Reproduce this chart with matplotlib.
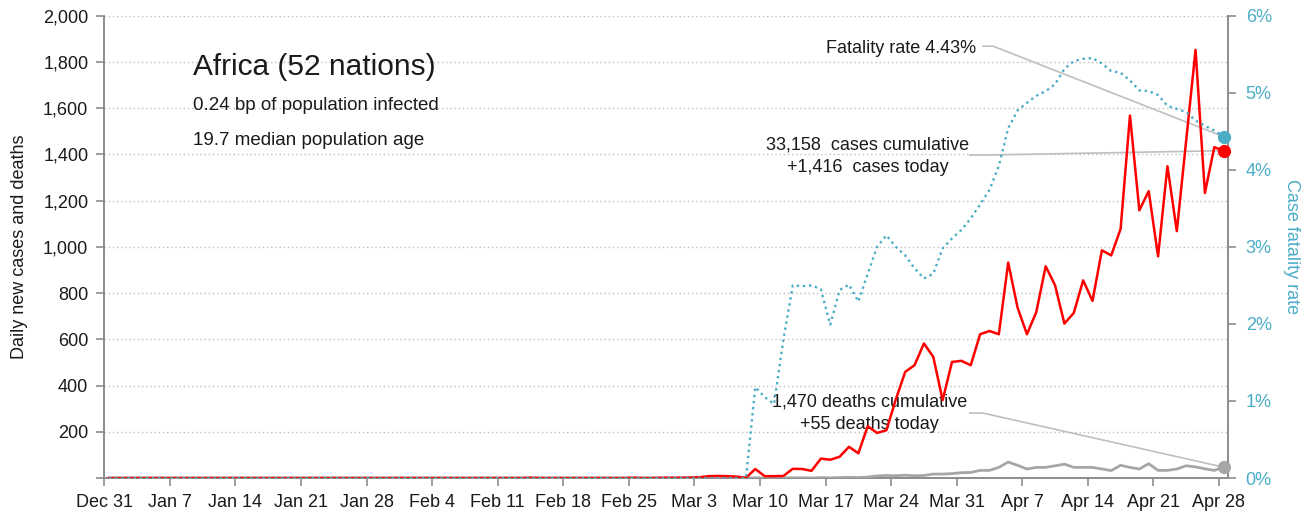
import matplotlib
matplotlib.use('Agg')
import matplotlib.pyplot as plt
import numpy as np

plt.rcParams['font.family'] = ['Liberation Sans', 'DejaVu Sans']

# Daily data, Dec 31 .. Apr 28 (one value per day)
new_cases = [
    0, 0, 0, 0, 0, 0, 0, 0, 0, 0,
    0, 0, 0, 0, 0, 0, 0, 0, 0, 0,
    0, 0, 0, 0, 0, 0, 0, 0, 0, 0,
    0, 0, 0, 0, 0, 0, 0, 0, 0, 0,
    0, 0, 0, 0, 0, 1, 0, 0, 0, 0,
    0, 0, 0, 0, 0, 0, 1, 0, 0, 1,
    1, 1, 2, 3, 8, 9, 8, 6, 1, 39,
    8, 8, 9, 40, 39, 31, 84, 79, 92, 135,
    107, 224, 195, 207, 340, 459, 488, 582, 524, 337,
    502, 507, 488, 622, 636, 622, 932, 737, 622, 718,
    916, 834, 668, 714, 855, 766, 985, 963, 1078, 1568,
    1158, 1241, 959, 1349, 1068, 1460, 1852, 1233, 1431, 1416,
]
new_deaths = [
    0, 0, 0, 0, 0, 0, 0, 0, 0, 0,
    0, 0, 0, 0, 0, 0, 0, 0, 0, 0,
    0, 0, 0, 0, 0, 0, 0, 0, 0, 0,
    0, 0, 0, 0, 0, 0, 0, 0, 0, 0,
    0, 0, 0, 0, 0, 0, 0, 0, 0, 0,
    0, 0, 0, 0, 0, 0, 0, 0, 0, 0,
    0, 0, 0, 0, 0, 0, 0, 0, 0, 1,
    0, 0, 1, 1, 1, 0, 2, 1, 2, 3,
    2, 4, 9, 11, 10, 12, 10, 11, 17, 17,
    19, 23, 24, 33, 33, 46, 69, 55, 39, 46,
    46, 53, 60, 46, 46, 46, 39, 32, 55, 46,
    39, 62, 33, 33, 39, 53, 48, 40, 33, 47,
]
fatality_rate = [
    0, 0, 0, 0, 0, 0, 0, 0, 0, 0,
    0, 0, 0, 0, 0, 0, 0, 0, 0, 0,
    0, 0, 0, 0, 0, 0, 0, 0, 0, 0,
    0, 0, 0, 0, 0, 0, 0, 0, 0, 0,
    0, 0, 0, 0, 0, 0, 0, 0, 0, 0,
    0, 0, 0, 0, 0, 0, 0, 0, 0, 0,
    0, 0, 0, 0, 0, 0, 0, 0, 0, 1.18,
    1.05, 0.96, 1.80, 2.50, 2.49, 2.50, 2.45, 1.99, 2.44, 2.51,
    2.29, 2.65, 3.00, 3.15, 3.00, 2.89, 2.72, 2.59, 2.65, 2.98,
    3.11, 3.22, 3.37, 3.55, 3.74, 4.05, 4.54, 4.77, 4.87, 4.96,
    5.02, 5.11, 5.31, 5.41, 5.44, 5.45, 5.38, 5.28, 5.26, 5.16,
    5.03, 5.02, 4.97, 4.83, 4.79, 4.75, 4.64, 4.57, 4.51, 4.43,
]
tick_labels = ['Dec 31', 'Jan 7', 'Jan 14', 'Jan 21', 'Jan 28', 'Feb 4', 'Feb 11',
               'Feb 18', 'Feb 25', 'Mar 3', 'Mar 10', 'Mar 17', 'Mar 24', 'Mar 31',
               'Apr 7', 'Apr 14', 'Apr 21', 'Apr 28']

title = 'Africa (52 nations)'
subtitle_lines = ['0.24 bp of population infected', '19.7 median population age']
fatality_note = 'Fatality rate 4.43%'
cases_note = '33,158  cases cumulative\n+1,416  cases today'
deaths_note = '1,470 deaths cumulative\n+55 deaths today'

RED = '#ff0000'
GREY = '#a6a6a6'
BLUE = '#4bacc6'
AXIS = '#8c8c8c'
LEADER = '#bfbfbf'
TEXT = '#1a1a1a'

days = np.arange(len(new_cases)) + 0.5
Y_MAX = 2000
RATE_MAX = 6

fig = plt.figure(figsize=(13.14, 5.21), dpi=100, facecolor='white')
ax = fig.add_axes([0.0794, 0.0825, 0.8554, 0.8874])
ax2 = ax.twinx()

ax.plot(days, new_deaths, color=GREY, linewidth=2.0, zorder=3)
ax.plot(days, new_cases, color=RED, linewidth=1.8, zorder=4)

ax2.plot(days, fatality_rate, color=BLUE, linewidth=1.7, linestyle=(0, (1, 1.6)))

# end dots sit on top of the right spine, so draw them on the twin axes
ax2.plot(days[-1], new_cases[-1], 'o', color=RED, markersize=8.5, zorder=5,
         clip_on=False, transform=ax.transData)
ax2.plot(days[-1], new_deaths[-1], 'o', color=GREY, markersize=8.5, zorder=5,
         clip_on=False, transform=ax.transData)
ax2.plot(days[-1], fatality_rate[-1], 'o', color=BLUE, markersize=8.5, zorder=5,
         clip_on=False)

ax.set_xlim(0, 120)
ax.set_ylim(0, Y_MAX)
ax2.set_ylim(0, RATE_MAX)

ax.set_xticks(np.arange(0, 120, 7))
ax.set_xticklabels(tick_labels)
yt = np.arange(0, Y_MAX + 1, 200)
ax.set_yticks(yt)
ax.set_yticklabels(['' if v == 0 else f'{v:,}' for v in yt])
ax2.set_yticks(np.arange(0, RATE_MAX + 1))
ax2.set_yticklabels([f'{v}%' for v in range(RATE_MAX + 1)])

ax.grid(True, axis='y', color=LEADER, linestyle=(0, (1, 2)), linewidth=1.0)
ax.set_axisbelow(True)

for s in ['top', 'right']:
    ax.spines[s].set_visible(False)
for s in ['top', 'left', 'bottom']:
    ax2.spines[s].set_visible(False)
for sp in [ax.spines['left'], ax.spines['bottom'], ax2.spines['right']]:
    sp.set_color(AXIS)
    sp.set_linewidth(1.4)

ax.tick_params(axis='both', length=5.5, width=1.2, color=AXIS, labelsize=13,
               labelcolor=TEXT, pad=6)
ax2.tick_params(axis='y', length=5.5, width=1.2, color=AXIS, labelsize=13,
                labelcolor=BLUE, pad=7)

ax.set_ylabel('Daily new cases and deaths', fontsize=13, color=TEXT, labelpad=11)
ax2.set_ylabel('Case fatality rate', fontsize=13, color=BLUE, rotation=-90, labelpad=20)

fig.text(0.1469, 0.857, title, fontsize=21.5, color=TEXT, va='baseline')
fig.text(0.1469, 0.788, subtitle_lines[0], fontsize=13.5, color=TEXT, va='baseline')
fig.text(0.1469, 0.721, subtitle_lines[1], fontsize=13.5, color=TEXT, va='baseline')

# notes and leader lines to the last points
rate_scale = Y_MAX / RATE_MAX
ax.text(93.1, 1859, fatality_note, fontsize=13, color=TEXT, ha='right', va='center')
ax.plot([93.8, 94.9, days[-1]], [1868, 1868, fatality_rate[-1] * rate_scale],
        color=LEADER, linewidth=1.2, zorder=2)

ax.text(81.5, 1392, cases_note, fontsize=13, color=TEXT, ha='center', va='center',
        linespacing=1.4)
ax.plot([92.4, 93.8, days[-1]], [1397, 1397, new_cases[-1]],
        color=LEADER, linewidth=1.2, zorder=2)

ax.text(81.7, 281, deaths_note, fontsize=13, color=TEXT, ha='center', va='center',
        linespacing=1.4)
ax.plot([92.4, 93.8, days[-1]], [281, 281, new_deaths[-1]],
        color=LEADER, linewidth=1.2, zorder=2)

fig.savefig('out.png', dpi=100, facecolor='white')
plt.close(fig)
